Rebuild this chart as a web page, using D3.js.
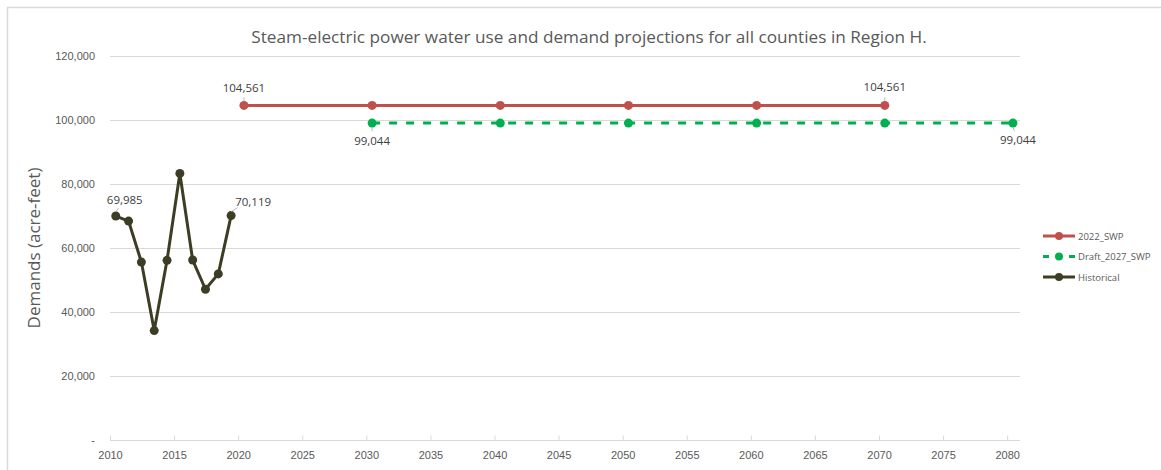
<!DOCTYPE html>
<html>
<head>
<meta charset="utf-8">
<script src="https://cdn.jsdelivr.net/npm/d3@7"></script>
<style>
 body { margin: 0; background: #fff; }
 svg { font-family: "Open Sans", sans-serif; }
 .grid line { stroke: #d9d9d9; }
 .tick text { fill: #595959; font-size: 11px; }
</style>
</head>
<body>
<svg id="chart" width="1161" height="470"></svg>
<script>
 // data
 const histYears = [2010, 2011, 2012, 2013, 2014, 2015, 2016, 2017, 2018, 2019];
 const histValues = [69985, 68400, 55600, 34200, 56150, 83300, 56250, 47100, 51900, 70119];
 const swp2022Years = [2020, 2030, 2040, 2050, 2060, 2070];
 const swp2022Values = [104561, 104561, 104561, 104561, 104561, 104561];
 const draft2027Years = [2030, 2040, 2050, 2060, 2070, 2080];
 const draft2027Values = [99044, 99044, 99044, 99044, 99044, 99044];
 const xTicks = [2010, 2015, 2020, 2025, 2030, 2035, 2040, 2045, 2050, 2055, 2060, 2065, 2070, 2075, 2080];
 const yTicks = [0, 20000, 40000, 60000, 80000, 100000, 120000];

 const series = [
   { name: '2022_SWP', years: swp2022Years, values: swp2022Values, color: '#c0504d', dash: null,
     labels: [{ i: 0, dx: 0, dy: -13 }, { i: 5, dx: 0, dy: -14 }] },
   { name: 'Draft_2027_SWP', years: draft2027Years, values: draft2027Values, color: '#00b050', dash: '8,9',
     labels: [{ i: 0, dx: 0, dy: 22 }, { i: 5, dx: 5, dy: 21 }] },
   { name: 'Historical', years: histYears, values: histValues, color: '#3d3c24', dash: null,
     labels: [{ i: 0, dx: 9, dy: -12 }, { i: 9, dx: 22, dy: -10 }] }
 ];

 const svg = d3.select('#chart');
 const margin = { left: 110, right: 141, top: 56, bottom: 30 };
 const width = 1161, height = 470;

 // border
 svg.append('rect').attr('x', 7.5).attr('y', 7.5).attr('width', 1170).attr('height', 480)
   .attr('fill', 'none').attr('stroke', '#d9d9d9').attr('stroke-width', 1.5);

 const x = d3.scaleLinear().domain([2010, 2081]).range([margin.left, width - margin.right]);
 const y = d3.scaleLinear().domain([0, 120000]).range([height - margin.bottom, margin.top]);
 const xPos = yr => x(yr + 0.45);

 // gridlines
 svg.append('g').attr('class', 'grid')
   .selectAll('line').data(yTicks.filter(d => d > 0)).join('line')
   .attr('x1', x(2010)).attr('x2', x.range()[1])
   .attr('y1', d => Math.round(y(d)) + 0.5).attr('y2', d => Math.round(y(d)) + 0.5);

 // y axis
 const yAxis = svg.append('g').attr('transform', `translate(${x(2010) - 7},0)`)
   .call(d3.axisLeft(y).tickValues(yTicks).tickSize(0).tickPadding(8)
     .tickFormat(d => d === 0 ? '-' : d3.format(',')(d)));
 yAxis.select('.domain').remove();

 // x axis
 const xAxis = svg.append('g').attr('transform', `translate(0,${Math.round(y(0)) + 0.5})`)
   .call(d3.axisBottom(x).tickValues(xTicks).tickSize(5).tickPadding(6).tickFormat(d3.format('d')));
 xAxis.select('.domain').attr('stroke', '#d9d9d9').attr('d', `M${x(2010)},0H${x.range()[1]}`);
 xAxis.selectAll('.tick line').attr('stroke', '#d9d9d9').attr('y2', -5);
 xAxis.selectAll('.tick text').attr('dy', '0.71em');

 // title
 svg.append('text').attr('x', 589).attr('y', 43).attr('text-anchor', 'middle')
   .attr('fill', '#595959').style('font-size', '17.2px')
   .text('Steam-electric power water use and demand projections for all counties in Region H.');

 // y label
 svg.append('text').attr('transform', `translate(40,${(y(0) + y(120000)) / 2}) rotate(-90)`)
   .attr('text-anchor', 'middle').attr('fill', '#595959').style('font-size', '17px')
   .text('Demands (acre-feet)');

 const line = d3.line().x(d => xPos(d[0])).y(d => y(d[1]));

 series.forEach(s => {
   const pts = s.years.map((yr, i) => [yr, s.values[i]]);
   svg.append('path').datum(pts).attr('d', line).attr('fill', 'none')
     .attr('stroke', s.color).attr('stroke-width', 3)
     .attr('stroke-dasharray', s.dash);
   svg.append('g').selectAll('circle').data(pts).join('circle')
     .attr('cx', d => xPos(d[0])).attr('cy', d => y(d[1])).attr('r', 4.5).attr('fill', s.color);
   s.labels.forEach(l => {
     const px = xPos(pts[l.i][0]), py = y(pts[l.i][1]);
     svg.append('line').attr('x1', px).attr('y1', py + (l.dy < 0 ? -4 : 4))
       .attr('x2', px + l.dx * 0.3).attr('y2', py + (l.dy < 0 ? -8 : 8))
       .attr('stroke', '#a6a6a6').attr('stroke-width', 0.8);
     svg.append('text').attr('x', px + l.dx).attr('y', py + l.dy)
       .attr('text-anchor', 'middle').attr('fill', '#404040').style('font-size', '11.5px')
       .text(d3.format(',')(pts[l.i][1]));
   });
 });

 // legend
 const legend = svg.append('g').attr('transform', 'translate(1043,236)');
 series.forEach((s, i) => {
   const g = legend.append('g').attr('transform', `translate(0,${i * 20.5})`);
   g.append('line').attr('x1', 0).attr('x2', 32).attr('y1', 0).attr('y2', 0)
     .attr('stroke', s.color).attr('stroke-width', 3)
     .attr('stroke-dasharray', s.dash ? '6,7' : null);
   g.append('circle').attr('cx', 16).attr('cy', 0).attr('r', 4).attr('fill', s.color);
   g.append('text').attr('x', 35).attr('y', 3.5).attr('fill', '#595959')
     .style('font-size', '9.5px').text(s.name);
 });
</script>
</body>
</html>
